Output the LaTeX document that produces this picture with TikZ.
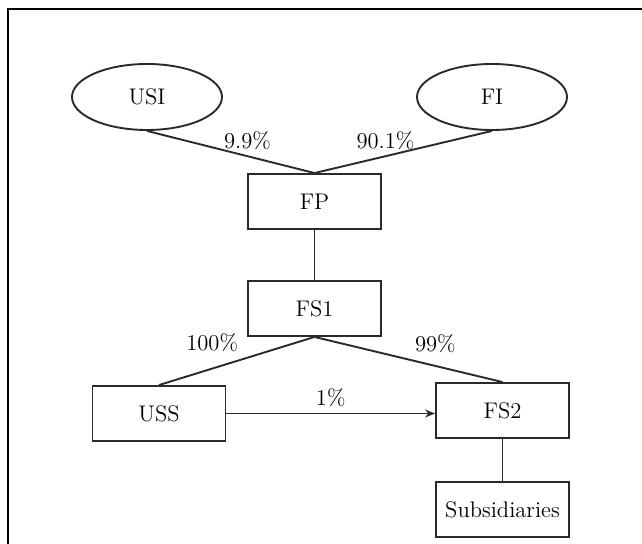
\documentclass[tikz,border=0pt]{standalone}
\usepackage{tikz}
\usepackage{xcolor}
\usetikzlibrary{arrows.meta,positioning,shapes.geometric}
\definecolor{BoxLineColour}{HTML}{2A2A2A}
\tikzstyle{HolderNode}=[ellipse,draw=BoxLineColour,line width=0.95pt,minimum width=75pt,minimum height=33pt,inner sep=0pt]
\tikzstyle{EntityNode}=[rectangle,draw=BoxLineColour,line width=0.95pt,minimum width=66.5pt,minimum height=27.5pt,inner sep=0pt]
\tikzstyle{OwnershipLine}=[-,draw=BoxLineColour,line width=0.95pt]
\tikzstyle{ShareLabel}=[draw=none,inner sep=2.8pt]
\tikzstyle{PageFrame}=[-,line width=1.4pt]

\begin{document}
\begin{tikzpicture}[on grid,font=\fontsize{11.3pt}{13pt}\selectfont]
  \useasboundingbox (0,0) rectangle (321pt,-272pt);
  \draw[PageFrame] (321pt,-4.5pt) -- (4pt,-4.5pt) -- (4pt,-272pt);

  \node[EntityNode](FP) at (157.25pt,-100.75pt){FP};
  \node[HolderNode,above left=52.25pt and 83.75pt of FP](USI){USI};
  \node[HolderNode,above right=52.25pt and 88.75pt of FP](FI){FI};
  \node[EntityNode,below=53.5pt of FP](FS1){FS1};
  \node[EntityNode,below left=52.5pt and 77.75pt of FS1](USS){USS};
  \node[EntityNode,below right=51pt and 94pt of FS1](FS2){FS2};
  \node[EntityNode,below=49.5pt of FS2](Subsidiaries){Subsidiaries};

  \draw[OwnershipLine] (USI.south) -- node[ShareLabel,above,pos=0.6]{9.9\%} (FP.north);
  \draw[OwnershipLine] (FI.south) -- node[ShareLabel,above,pos=0.6]{90.1\%} (FP.north);
  \draw[OwnershipLine] (FP) -- (FS1);
  \draw[OwnershipLine] (FS1.south) -- node[ShareLabel,above left,pos=0.45]{100\%} (USS.north);
  \draw[OwnershipLine] (FS1.south) -- node[ShareLabel,above right,midway]{99\%} (FS2.north);
  \draw[OwnershipLine,-{Stealth[length=5pt,width=4pt]}] (USS.east) -- node[ShareLabel,above]{1\%} (USS.east -| FS2.west);
  \draw[OwnershipLine] (FS2) -- (Subsidiaries);

\end{tikzpicture}
\end{document}
